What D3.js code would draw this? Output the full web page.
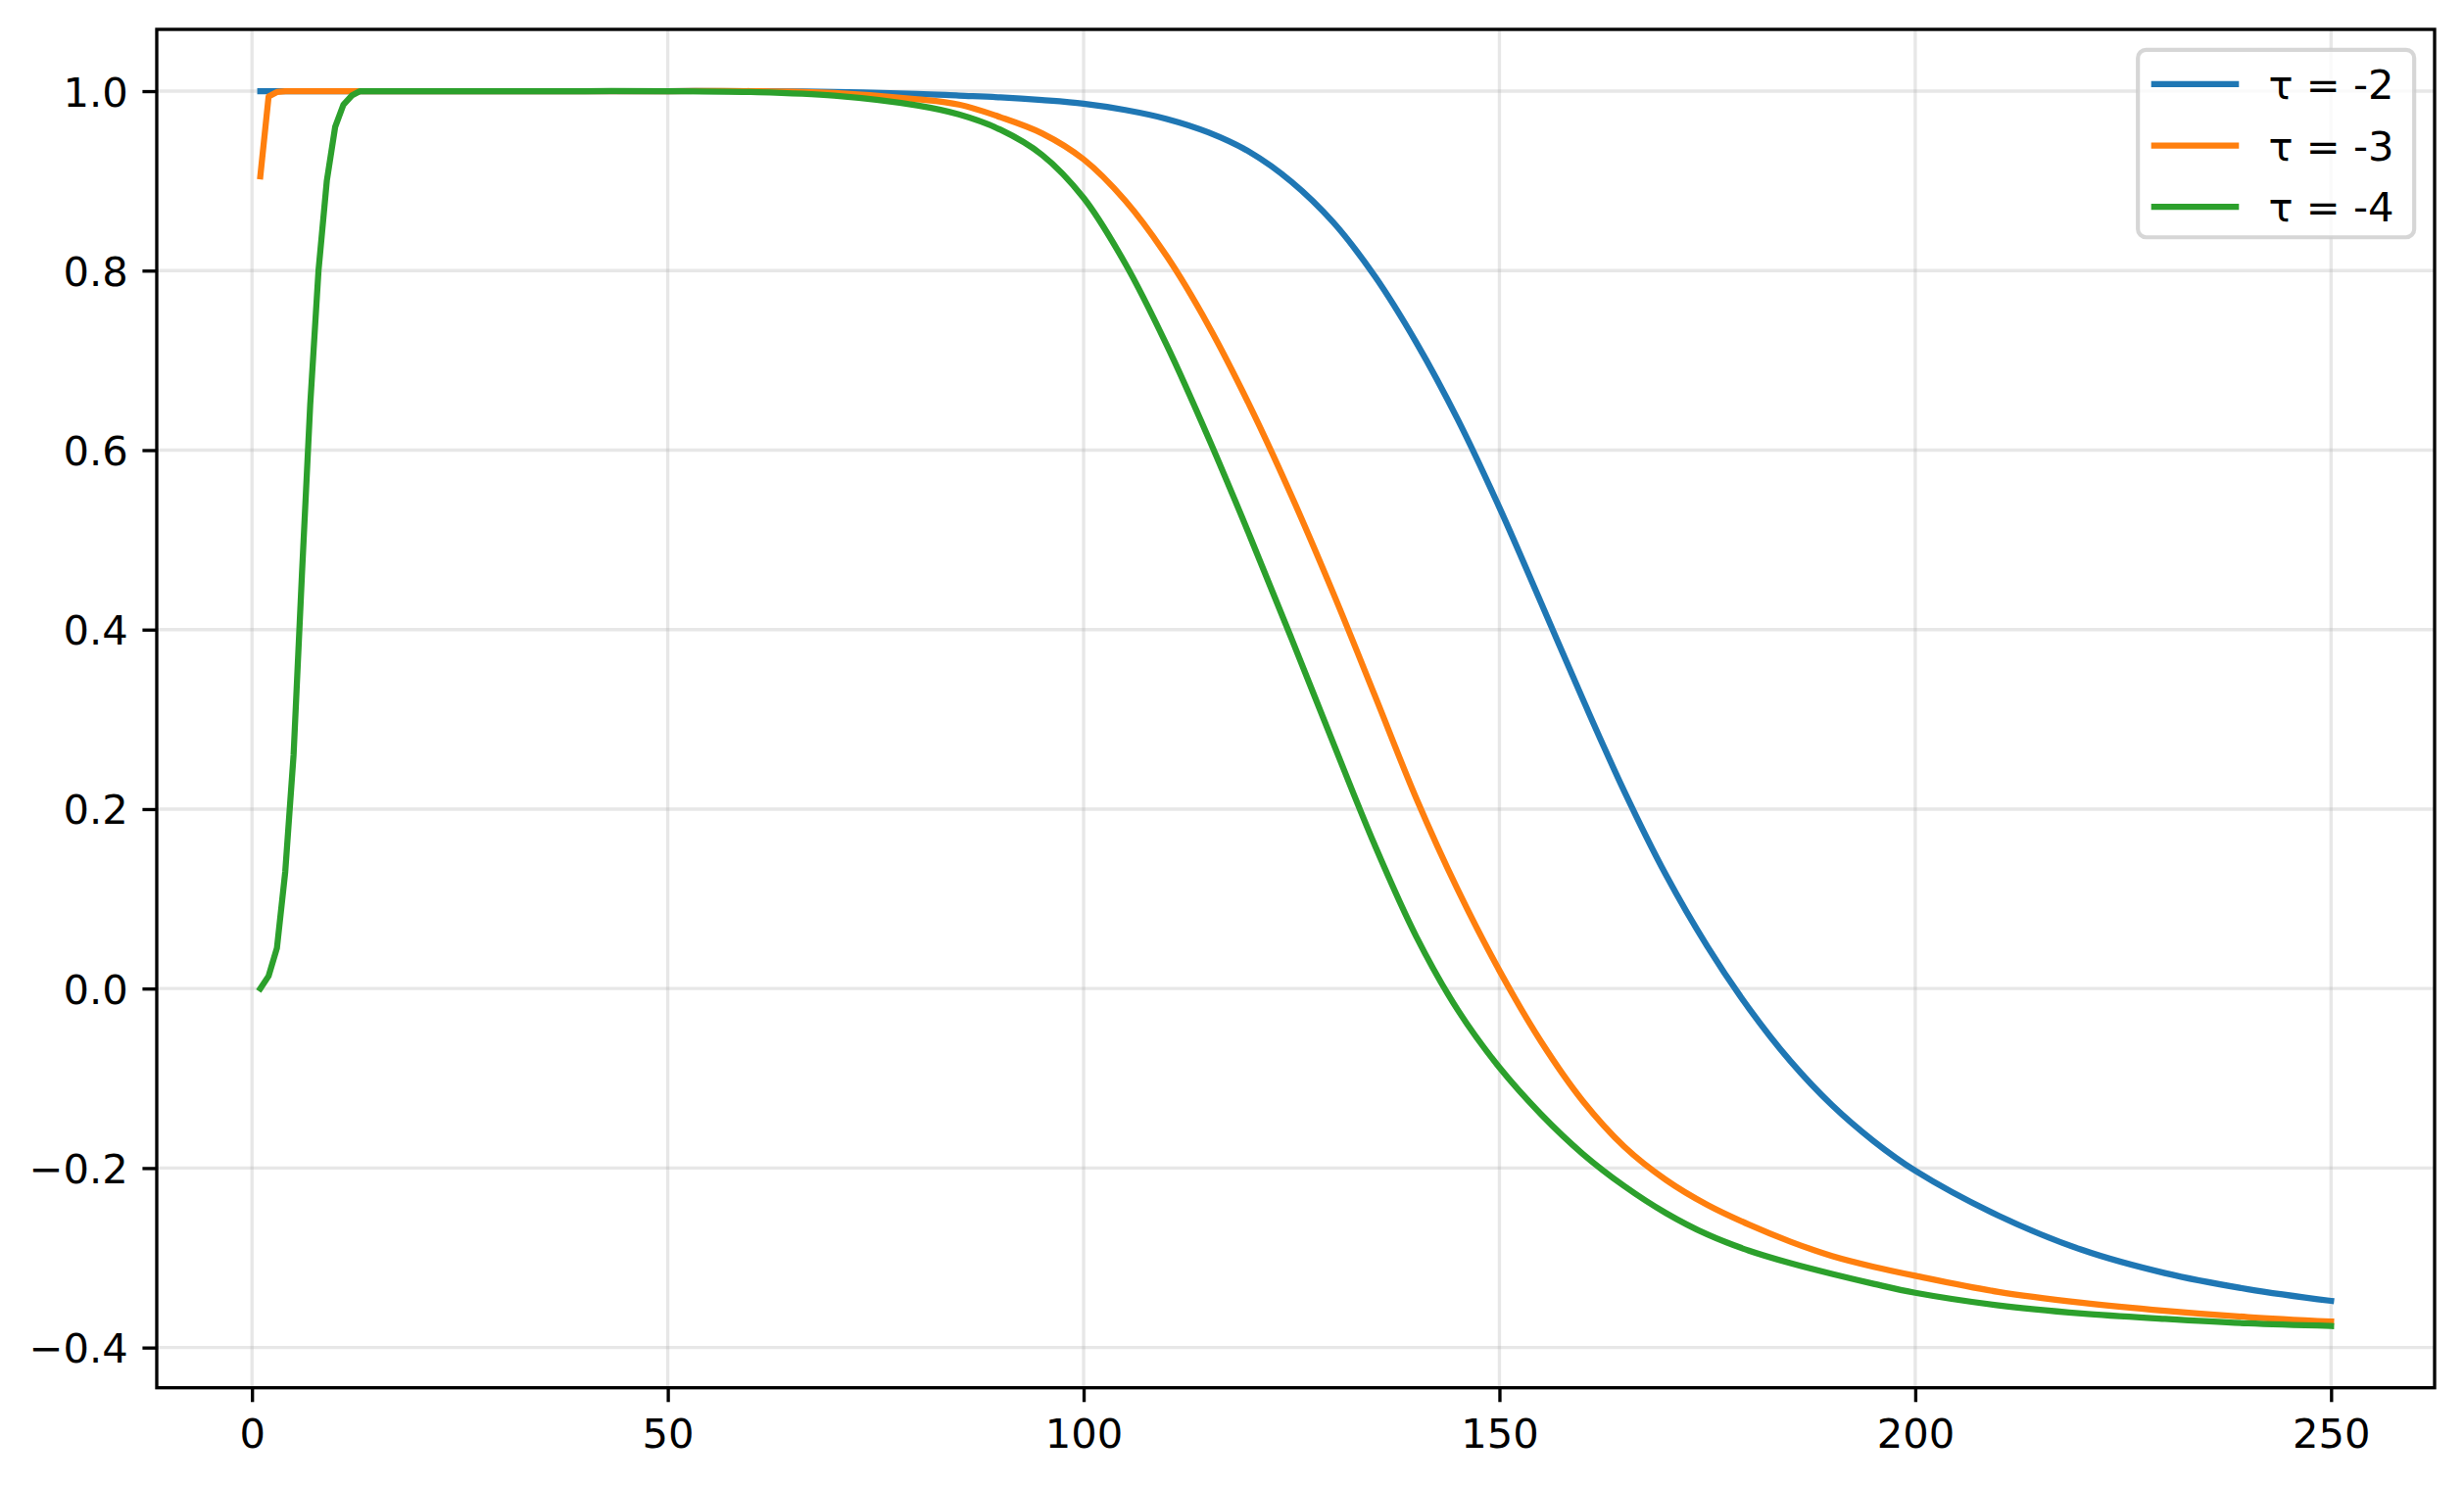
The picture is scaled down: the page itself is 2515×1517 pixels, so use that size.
<!DOCTYPE html>
<html><head><meta charset="utf-8">
<script src="https://cdn.jsdelivr.net/npm/d3@7"></script>
<style>body{margin:0;background:#fff} text{font-family:"DejaVu Sans",sans-serif}</style>
</head><body><svg id="c" width="2515" height="1517"></svg>
<script>
// ---- data ----
const xValues = [1,2,3,4,5,6,7,8,9,10,11,12,13,15,20,30,40,50,60,70,80,
  85,90,95,100,105,110,115,120,125,130,135,140,145,150,155,160,165,170,175,180,185,190,195,200,
  210,220,230,240,250];
const tauM2 = [1,1,1,1,1,1,1,1,1,1,1,1,1,1,1,1,1,1,1.0,0.999,0.997,
  0.995,0.993,0.990,0.986,0.979,0.969,0.954,0.932,0.899,0.854,0.794,0.720,0.634,0.536,0.430,0.323,0.220,0.127,0.047,-0.022,-0.081,-0.130,-0.170,-0.203,
  -0.253,-0.291,-0.317,-0.335,-0.348];
const tauM3 = [0.905,0.994,0.999,1,1,1,1,1,1,1,1,1,1,1,1,1,1,1,1.0,0.998,0.991,
  0.985,0.971,0.953,0.924,0.878,0.816,0.739,0.649,0.549,0.441,0.327,0.212,0.110,0.020,-0.059,-0.125,-0.176,-0.213,-0.241,-0.263,-0.282,-0.298,-0.310,-0.320,
  -0.338,-0.350,-0.359,-0.366,-0.371];
const tauM4 = [0.0,0.014,0.045,0.13,0.26,0.46,0.65,0.80,0.90,0.96,0.985,0.995,1,1,1,1,1,1,0.999,0.995,0.984,
  0.974,0.957,0.929,0.881,0.808,0.717,0.614,0.504,0.390,0.274,0.160,0.058,-0.024,-0.088,-0.140,-0.184,-0.220,-0.250,-0.274,-0.292,-0.306,-0.318,-0.329,-0.339,
  -0.353,-0.362,-0.368,-0.373,-0.376];
const seriesLabels = ["τ = -2","τ = -3","τ = -4"];
const seriesColors = ["#1f77b4","#ff7f0e","#2ca02c"];
const xTicks = [0,50,100,150,200,250];
const yTicks = [-0.4,-0.2,0.0,0.2,0.4,0.6,0.8,1.0];

// ---- layout ----
const PX = 300/72; // points to pixels
const fs = 10*PX;
const area = {left:160, right:2485, top:30, bottom:1416.7};
const svg = d3.select("#c");
svg.append("rect").attr("width",2515).attr("height",1517).attr("fill","#fff");

const series = [tauM2, tauM3, tauM4];
const xe = d3.extent(xValues), xp = (xe[1]-xe[0])*0.05;
const allY = series.flat();
const ye = d3.extent(allY), yp = (ye[1]-ye[0])*0.05;
const x = d3.scaleLinear().domain([xe[0]-xp, xe[1]+xp]).range([area.left, area.right]);
const y = d3.scaleLinear().domain([ye[0]-yp, ye[1]+yp]).range([area.bottom, area.top]);

// grid
const grid = svg.append("g");
grid.selectAll("line.gx").data(xTicks).join("line")
  .attr("x1",d=>x(d)).attr("x2",d=>x(d)).attr("y1",area.top).attr("y2",area.bottom)
  .attr("stroke","#b0b0b0").attr("stroke-opacity",0.3).attr("stroke-width",0.8*PX);
grid.selectAll("line.gy").data(yTicks).join("line")
  .attr("y1",d=>y(d)).attr("y2",d=>y(d)).attr("x1",area.left).attr("x2",area.right)
  .attr("stroke","#b0b0b0").attr("stroke-opacity",0.3).attr("stroke-width",0.8*PX);

// lines: straight segments for the first integer steps, smooth afterwards
const lineLin = d3.line().x(p=>x(p[0])).y(p=>y(p[1]));
const lineSmooth = d3.line().x(p=>x(p[0])).y(p=>y(p[1])).curve(d3.curveCatmullRom.alpha(0.5));
series.forEach((s,k)=>{
  const pts = xValues.map((xv,i)=>[xv, s[i]]);
  const early = pts.filter(p=>p[0]<=13), late = pts.filter(p=>p[0]>=13);
  const d = lineLin(early) + lineSmooth(late).replace(/^M/,"L");
  svg.append("path").attr("d",d).attr("fill","none")
    .attr("stroke",seriesColors[k]).attr("stroke-width",1.5*PX)
    .attr("stroke-linecap","square").attr("stroke-linejoin","round");
});

// axes
const xAxis = d3.axisBottom(x).tickValues(xTicks).tickFormat(d3.format("d")).tickSize(3.5*PX).tickPadding(3.5*PX);
const yAxis = d3.axisLeft(y).tickValues(yTicks).tickFormat(d3.format(".1f")).tickSize(3.5*PX).tickPadding(3.5*PX);
const gx = svg.append("g").attr("transform",`translate(0,${area.bottom})`).call(xAxis);
const gy = svg.append("g").attr("transform",`translate(${area.left},0)`).call(yAxis);
[gx,gy].forEach(g=>{
  g.select(".domain").remove();
  g.selectAll(".tick line").attr("stroke","#000").attr("stroke-width",0.8*PX);
  g.selectAll(".tick text").attr("fill","#000").style("font-size",fs+"px").style("font-family","DejaVu Sans");
});
gx.selectAll(".tick text").attr("dy","0.76em");
gy.selectAll(".tick text").attr("dy","0.36em");

// spines
svg.append("rect").attr("x",area.left).attr("y",area.top)
  .attr("width",area.right-area.left).attr("height",area.bottom-area.top)
  .attr("fill","none").attr("stroke","#000").attr("stroke-width",0.8*PX);

// legend
const lg = svg.append("g");
const boxRight = area.right - 0.5*fs, boxTop = area.top + 0.5*fs;
const frame = lg.append("rect");
const items = lg.selectAll("g.item").data(seriesLabels).join("g");
const texts = items.append("text").text(d=>d).style("font-size",fs+"px").attr("fill","#000");
let maxW = 0; texts.each(function(){maxW=Math.max(maxW,this.getComputedTextLength());});
const boxW = 0.4*fs + 2.0*fs + 0.8*fs + maxW + 0.4*fs + 4;
const boxLeft = boxRight - boxW;
const rowH = 62.7, firstRow = boxTop + 35;
const boxH = 2*35 + 2*rowH - 4;
frame.attr("x",boxLeft).attr("y",boxTop).attr("width",boxW).attr("height",boxH)
  .attr("rx",0.2*fs).attr("fill","#fff").attr("fill-opacity",0.8)
  .attr("stroke","#cccccc").attr("stroke-opacity",0.8).attr("stroke-width",1.0*PX);
items.each(function(d,i){
  const g = d3.select(this), cy = firstRow + i*rowH;
  const hx = boxLeft + 0.4*fs;
  g.append("line").attr("x1",hx).attr("x2",hx+2.0*fs).attr("y1",cy).attr("y2",cy)
    .attr("stroke",seriesColors[i]).attr("stroke-width",1.5*PX).attr("stroke-linecap","square");
  g.select("text").attr("x",hx+2.0*fs+0.8*fs).attr("y",cy+15);
});
</script></body></html>
